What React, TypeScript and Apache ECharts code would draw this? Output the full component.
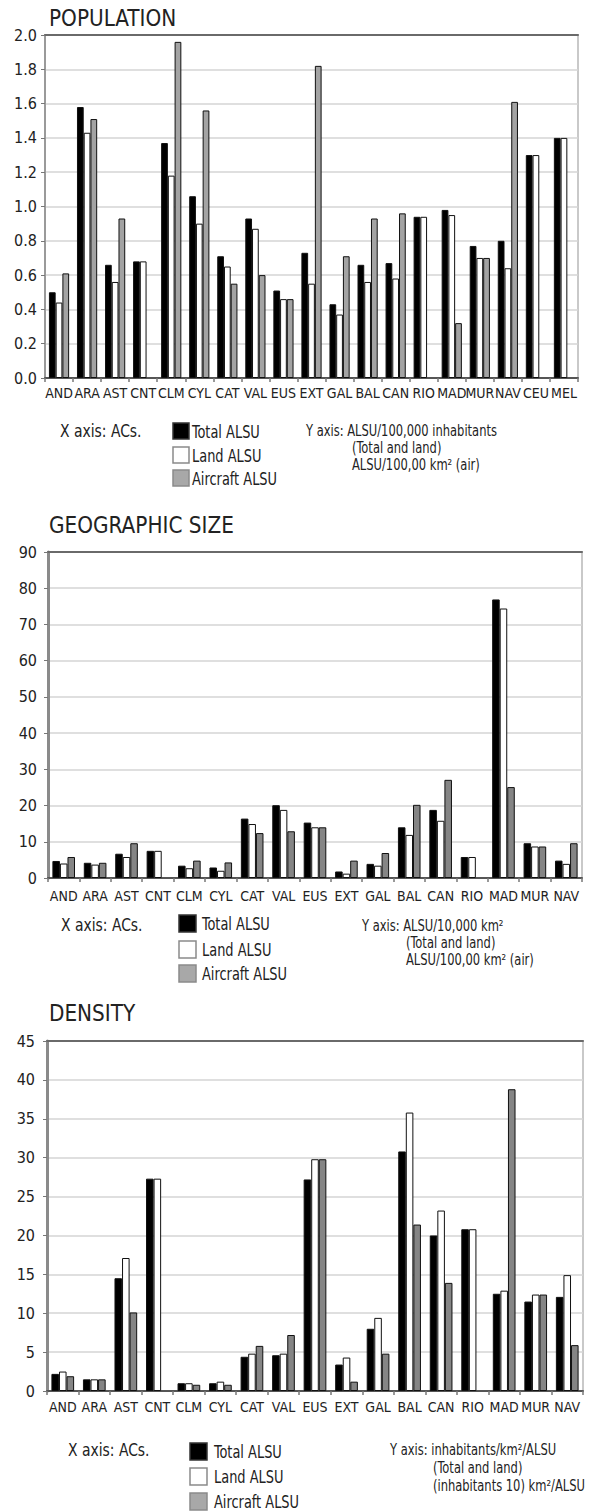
import React, { useEffect, useRef } from "react";
import * as echarts from "echarts";

const FONT = "'DejaVu Sans Condensed', 'DejaVu Sans', sans-serif";

// ---------- POPULATION ----------
const popCategories = ["AND", "ARA", "AST", "CNT", "CLM", "CYL", "CAT", "VAL", "EUS", "EXT", "GAL", "BAL", "CAN", "RIO", "MAD", "MUR", "NAV", "CEU", "MEL"];
const popTotal = [0.50, 1.58, 0.66, 0.68, 1.37, 1.06, 0.71, 0.93, 0.51, 0.73, 0.43, 0.66, 0.67, 0.94, 0.98, 0.77, 0.80, 1.30, 1.40];
const popLand = [0.44, 1.43, 0.56, 0.68, 1.18, 0.90, 0.65, 0.87, 0.46, 0.55, 0.37, 0.56, 0.58, 0.94, 0.95, 0.70, 0.64, 1.30, 1.40];
const popAir = [0.61, 1.51, 0.93, null, 1.96, 1.56, 0.55, 0.60, 0.46, 1.82, 0.71, 0.93, 0.96, null, 0.32, 0.70, 1.61, null, null];
const popTicks = { min: 0, max: 2, interval: 0.2 };

// ---------- GEOGRAPHIC SIZE ----------
const geoCategories = ["AND", "ARA", "AST", "CNT", "CLM", "CYL", "CAT", "VAL", "EUS", "EXT", "GAL", "BAL", "CAN", "RIO", "MAD", "MUR", "NAV"];
const geoTotal = [4.7, 4.2, 6.7, 7.5, 3.4, 2.9, 16.4, 20.1, 15.3, 1.8, 3.9, 14.0, 18.8, 5.8, 76.9, 9.6, 4.8];
const geoLand = [4.0, 3.7, 5.8, 7.5, 2.7, 2.0, 14.9, 18.8, 14.0, 1.2, 3.4, 11.9, 15.8, 5.8, 74.4, 8.7, 3.9];
const geoAir = [5.8, 4.2, 9.6, null, 4.8, 4.3, 12.4, 12.9, 14.0, 4.8, 6.9, 20.2, 27.1, null, 25.1, 8.7, 9.6];
const geoTicks = { min: 0, max: 90, interval: 10 };

// ---------- DENSITY ----------
const denCategories = ["AND", "ARA", "AST", "CNT", "CLM", "CYL", "CAT", "VAL", "EUS", "EXT", "GAL", "BAL", "CAN", "RIO", "MAD", "MUR", "NAV"];
const denTotal = [2.2, 1.5, 14.5, 27.3, 1.0, 1.0, 4.4, 4.6, 27.2, 3.4, 8.0, 30.8, 20.0, 20.8, 12.5, 11.5, 12.1];
const denLand = [2.5, 1.5, 17.1, 27.3, 1.0, 1.2, 4.8, 4.8, 29.8, 4.3, 9.4, 35.8, 23.2, 20.8, 12.9, 12.4, 14.9];
const denAir = [1.9, 1.5, 10.1, null, 0.8, 0.8, 5.8, 7.2, 29.8, 1.2, 4.8, 21.4, 13.9, null, 38.8, 12.4, 5.9];
const denTicks = { min: 0, max: 45, interval: 5 };

const seriesNames = ["Total ALSU", "Land ALSU", "Aircraft ALSU"];
const titles = ["POPULATION", "GEOGRAPHIC SIZE", "DENSITY"];
const xAxisNote = "X axis: ACs.";
const yAxisNotes = [
  ["Y axis: ALSU/100,000 inhabitants", "(Total and land)", "ALSU/100,00 km\u00b2 (air)"],
  ["Y axis: ALSU/10,000 km\u00b2", "(Total and land)", "ALSU/100,00 km\u00b2 (air)"],
  ["Y axis: inhabitants/km\u00b2/ALSU", "(Total and land)", "(inhabitants 10) km\u00b2/ALSU"],
];

const panels = [
  { cats: popCategories, total: popTotal, land: popLand, air: popAir, ticks: popTicks, dec: 1,
    grid: { left: 45, top: 35, width: 533, height: 343 }, airColor: "#a3a3a3", yLineW: 1.5, yMargin: 8, xMargin: 8,
    titleY: 18, legend: { x: 173, ys: [423, 447, 470], s: 16, tx: 192 }, xNote: { x: 60, y: 431 },
    yNote: { x: 306, y: 430, dx: 46, dy: 17 } },
  { cats: geoCategories, total: geoTotal, land: geoLand, air: geoAir, ticks: geoTicks, dec: 0,
    grid: { left: 48, top: 552, width: 534, height: 326 }, airColor: "#858585", yLineW: 3, yMargin: 11, xMargin: 11,
    titleY: 525, legend: { x: 179, ys: [915, 941, 965], s: 17, tx: 202 }, xNote: { x: 61, y: 925 },
    yNote: { x: 362, y: 925, dx: 44, dy: 17 } },
  { cats: denCategories, total: denTotal, land: denLand, air: denAir, ticks: denTicks, dec: 0,
    grid: { left: 47, top: 1041, width: 536, height: 350 }, airColor: "#858585", yLineW: 3, yMargin: 12, xMargin: 9,
    titleY: 1013, legend: { x: 190, ys: [1443, 1468, 1493], s: 17, tx: 214 }, xNote: { x: 68, y: 1450 },
    yNote: { x: 390, y: 1449, dx: 43, dy: 18 } },
];

const legendFills = ["#000000", "#ffffff", "#a8a8a8"];
const legendStrokes = ["#333333", "#8a8a8a", "#8a8a8a"];

const toData = (arr: (number | null)[]) => arr.map((v) => (v === null ? "-" : v));

export default function App() {
  const ref = useRef<HTMLDivElement>(null);
  useEffect(() => {
    if (!ref.current) return;
    const chart = echarts.init(ref.current, undefined, { renderer: "svg" });

    const grid: any[] = [];
    const xAxis: any[] = [];
    const topAxes: any[] = [];
    const yAxis: any[] = [];
    const series: any[] = [];
    const graphic: any[] = [];

    panels.forEach((p, i) => {
      grid.push({ ...p.grid, show: true, borderColor: "#b8b8b8", borderWidth: 1.5, backgroundColor: "#fff" });
      xAxis.push({
        type: "category", gridIndex: i, data: p.cats,
        axisLine: { lineStyle: { color: "#555", width: 2 } },
        axisTick: { show: true, length: 4, interval: 0, lineStyle: { color: "#777", width: 1.5 } },
        axisLabel: { interval: 0, fontSize: 14, fontFamily: FONT, color: "#222", margin: p.xMargin },
      });
      topAxes.push({
        type: "category", gridIndex: i, position: "top", data: p.cats,
        axisLine: { show: true, lineStyle: { color: "#6a6a6a", width: 2 } },
        axisTick: { show: false }, axisLabel: { show: false }, splitLine: { show: false },
      });
      yAxis.push({
        type: "value", gridIndex: i, min: p.ticks.min, max: p.ticks.max, interval: p.ticks.interval,
        axisLine: { show: true, lineStyle: { color: "#8a8a8a", width: p.yLineW } },
        axisTick: { show: true, length: 4, lineStyle: { color: "#777" } },
        splitLine: { lineStyle: { color: "#d4d4d4", width: 1.5 } },
        axisLabel: { fontSize: 16, fontFamily: FONT, color: "#222", margin: p.yMargin,
          formatter: (v: number) => v.toFixed(p.dec) },
      });
      const colors = ["#000000", "#ffffff", p.airColor];
      const datas = [p.total, p.land, p.air];
      datas.forEach((d, k) => {
        series.push({
          type: "bar", name: seriesNames[k], xAxisIndex: i, yAxisIndex: i, data: toData(d),
          barGap: "0%", barCategoryGap: "28%",
          itemStyle: { color: colors[k], borderColor: "#111", borderWidth: 1 },
        });
      });
      // title
      graphic.push({ type: "text", x: 49, y: p.titleY, scaleX: 0.97,
        style: { text: titles[i], font: `23px ${FONT}`, fill: "#222", verticalAlign: "middle" } });
      // legend (swatches + labels)
      seriesNames.forEach((name, k) => {
        const y = p.legend.ys[k];
        graphic.push({ type: "rect", shape: { x: p.legend.x, y, width: p.legend.s, height: p.legend.s },
          style: { fill: legendFills[k], stroke: legendStrokes[k], lineWidth: 1.5 } });
        graphic.push({ type: "text", x: p.legend.tx, y: y + p.legend.s / 2 + 0.5, scaleX: 0.8,
          style: { text: name, font: `18px ${FONT}`, fill: "#222", verticalAlign: "middle" } });
      });
      graphic.push({ type: "text", x: p.xNote.x, y: p.xNote.y, scaleX: 0.86,
        style: { text: xAxisNote, font: `18px ${FONT}`, fill: "#222", verticalAlign: "middle" } });
      yAxisNotes[i].forEach((t, j) => {
        graphic.push({ type: "text", x: p.yNote.x + (j === 0 ? 0 : p.yNote.dx), y: p.yNote.y + j * p.yNote.dy, scaleX: 0.8,
          style: { text: t, font: `16px ${FONT}`, fill: "#222", verticalAlign: "middle" } });
      });
    });

    chart.setOption({ animation: false, backgroundColor: "#fff", grid, xAxis: [...xAxis, ...topAxes], yAxis, series, graphic });
    return () => chart.dispose();
  }, []);
  return <div ref={ref} style={{ position: "absolute", left: 0, top: 0, width: 595, height: 1511 }} />;
}
